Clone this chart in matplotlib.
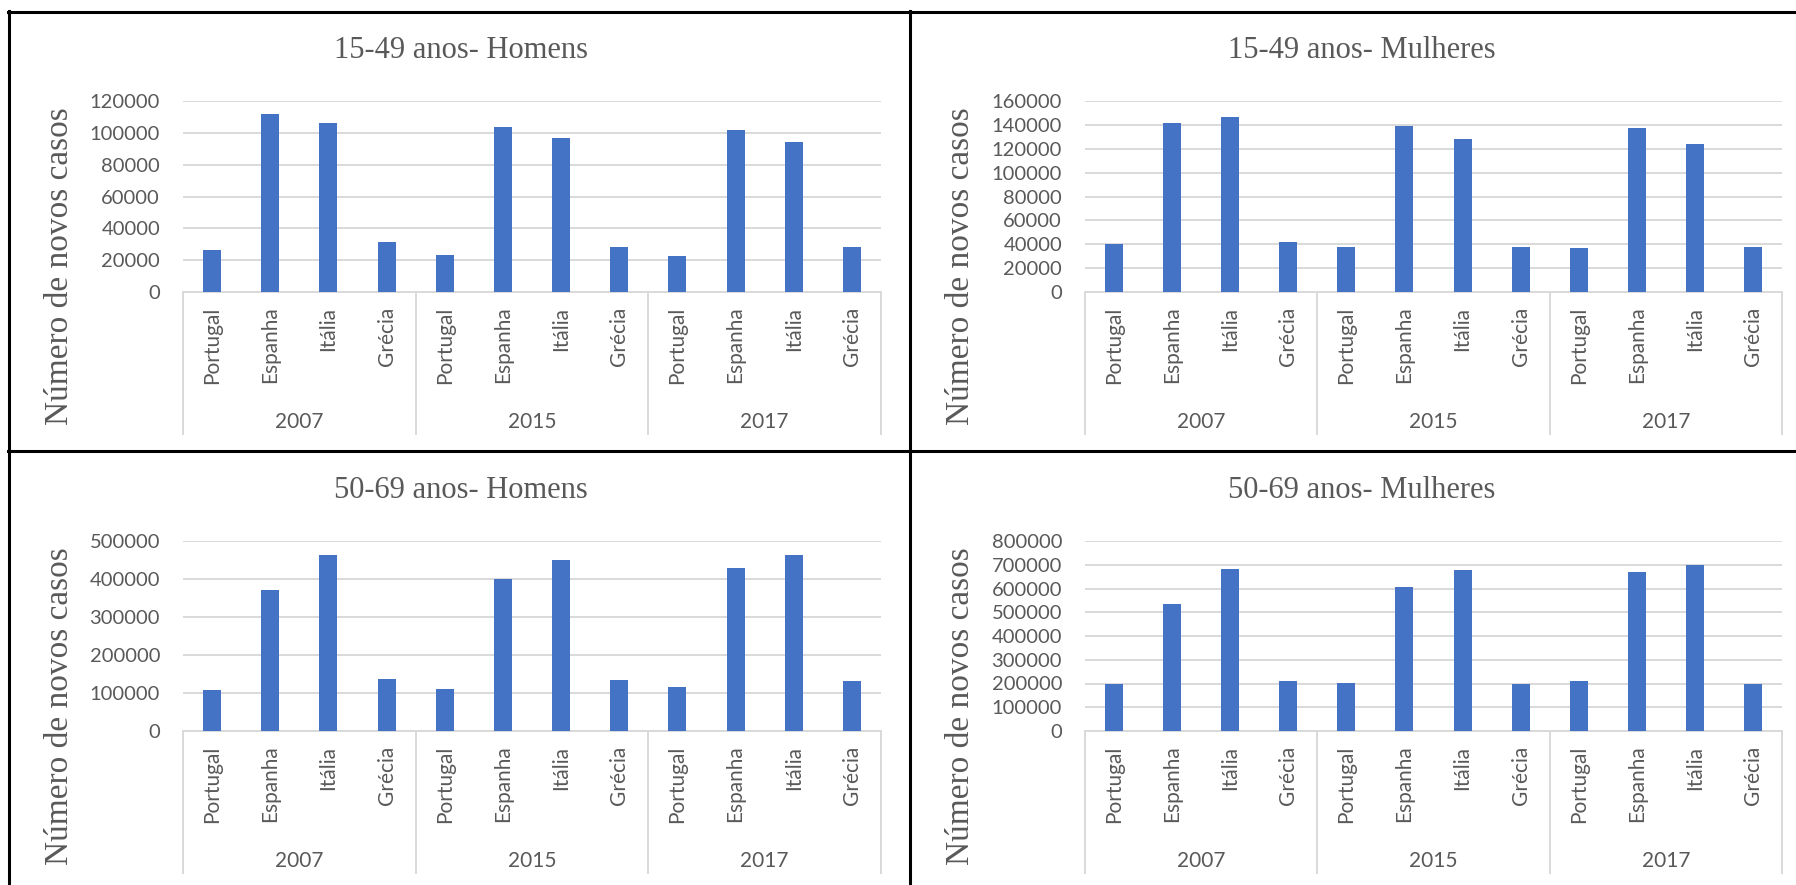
import matplotlib
matplotlib.use("Agg")
import matplotlib.pyplot as plt
from matplotlib.lines import Line2D
import numpy as np

# ---------------- data ----------------
countries = ["Portugal", "Espanha", "Itália", "Grécia"]
years = ["2007", "2015", "2017"]

titles = ["15-49 anos- Homens", "15-49 anos- Mulheres",
          "50-69 anos- Homens", "50-69 anos- Mulheres"]

homens_15_49 = [26500, 112000, 106000, 31500,
                23500, 103500, 97000, 28000,
                22500, 102000, 94000, 28000]
mulheres_15_49 = [40500, 141500, 146500, 42000,
                  37500, 139000, 128500, 37500,
                  36500, 137000, 124000, 37500]
homens_50_69 = [107500, 371500, 464000, 138000,
                110000, 399000, 450000, 134000,
                114500, 429500, 464000, 131000]
mulheres_50_69 = [199000, 534000, 682000, 210000,
                  204000, 606000, 676000, 199000,
                  210000, 670000, 699000, 199000]

y_max = [120000, 160000, 500000, 800000]
y_step = [20000, 20000, 100000, 100000]

ylabel = "Número de novos casos"

# ---------------- styling ----------------
W, H = 1796, 885
BAR = "#4472C4"
GRID = "#d9d9d9"
TXT = "#595959"
SANS = "Lato"
SERIF = "Liberation Serif"

fig = plt.figure(figsize=(W / 100, H / 100), dpi=100)
fig.patch.set_facecolor("white")

# axes pixel boxes: (left, right, top, bottom)
boxes = [(183, 881, 101, 292), (1085, 1782, 101, 292),
         (183, 881, 541, 731), (1085, 1782, 541, 731)]
title_pos = [(461, 50), (1362, 50), (461, 490), (1362, 490)]
ylabel_pos = [(60, 266), (961, 266), (60, 706), (961, 706)]
series = [homens_15_49, mulheres_15_49, homens_50_69, mulheres_50_69]

labels = countries * len(years)
x = np.arange(len(labels))

for i in range(4):
    l, r, t, b = boxes[i]
    ax = fig.add_axes([l / W, 1 - b / H, (r - l) / W, (b - t) / H])
    ax.set_axisbelow(True)
    ax.bar(x, series[i], width=0.31, color=BAR, zorder=3)
    ax.set_xlim(-0.5, len(labels) - 0.5)
    ax.set_ylim(0, y_max[i])
    ax.set_yticks(np.arange(0, y_max[i] + 1, y_step[i]))
    ax.set_yticklabels([f"{int(v)}" for v in np.arange(0, y_max[i] + 1, y_step[i])],
                       fontfamily=SANS, fontsize=14.5, color=TXT)
    ax.tick_params(axis="y", length=0, pad=16.5)
    ax.set_xticks(x)
    ax.set_xticklabels(labels, rotation=90, fontfamily=SANS, fontsize=15,
                       color=TXT, va="top", ha="center")
    ax.tick_params(axis="x", length=0, pad=10.5)
    ax.grid(axis="y", color=GRID, linewidth=1.4)
    for s in ["top", "left", "right"]:
        ax.spines[s].set_visible(False)
    ax.spines["bottom"].set_color(GRID)
    ax.spines["bottom"].set_linewidth(1.4)

    hpx = b - t
    sep_bottom = -(435 - 292) / hpx
    year_y = -(422 - 292) / hpx
    trans = ax.get_xaxis_transform()
    for k in range(len(years) + 1):
        xs = k * len(countries) - 0.5
        ax.plot([xs, xs], [0, sep_bottom], transform=trans, color=GRID,
                linewidth=1.4, clip_on=False, solid_capstyle="butt")
    for k, yr in enumerate(years):
        xc = k * len(countries) + (len(countries) - 1) / 2
        ax.text(xc, year_y, yr, transform=trans, ha="center", va="center",
                fontfamily=SANS, fontsize=15, color=TXT)

    tx, ty = title_pos[i]
    fig.text(tx / W, 1 - ty / H, titles[i], ha="center", va="center",
             fontfamily=SERIF, fontsize=22, color=TXT)
    lx, ly = ylabel_pos[i]
    fig.text(lx / W, 1 - ly / H, ylabel, ha="center", va="center", rotation=90,
             fontfamily=SERIF, fontsize=24, color=TXT)

# panel borders
def hline(y, x0, x1):
    fig.add_artist(Line2D([x0 / W, x1 / W], [1 - y / H, 1 - y / H],
                          transform=fig.transFigure, color="black", linewidth=2.2))

def vline(xp, y0, y1):
    fig.add_artist(Line2D([xp / W, xp / W], [1 - y0 / H, 1 - y1 / H],
                          transform=fig.transFigure, color="black", linewidth=2.2))

hline(11.5, 8, W)
hline(450.5, 8, W)
vline(9, 10.5, H)
vline(910, 10.5, H)

fig.savefig("out.png", dpi=100, facecolor="white")
